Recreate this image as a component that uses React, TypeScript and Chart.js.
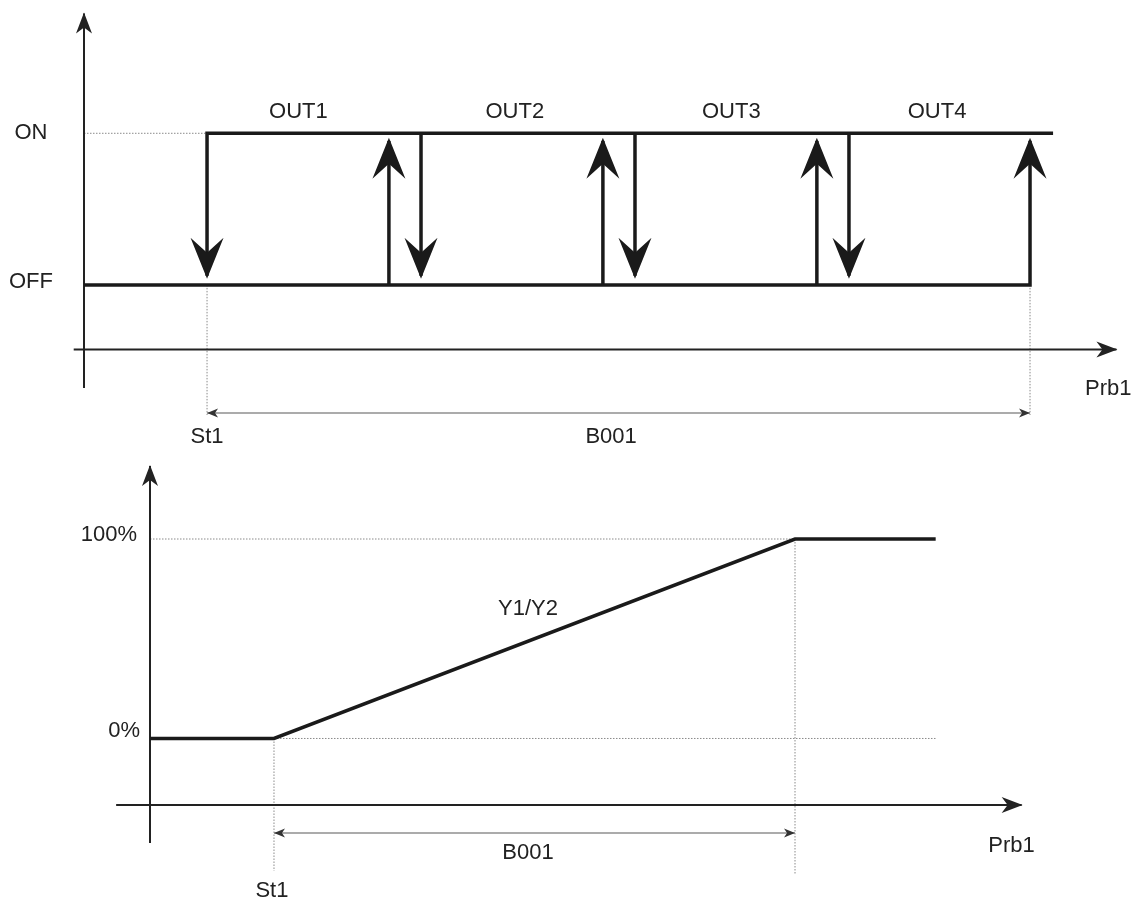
import React, { useEffect, useRef } from 'react';
import { Chart, registerables } from 'chart.js';

Chart.register(...registerables);

// ---------- Top diagram: x = Prb1 (St1 = 0, St1 + B001 = 100), y = output state ----------
const outLabels = ['OUT1', 'OUT2', 'OUT3', 'OUT4'];
const outLabelX = [11.1, 37.4, 63.7, 88.7];
const stepDownX = [0, 26.0, 52.0, 78.0];
const stepUpX = [22.1, 48.1, 74.1, 100];
const stateTickLabels = ['OFF', 'ON'];
const stateTickValues = [0, 1];
const onLineEndX = 102.8;
const topXRange = [-14.95, 110.69];
const topYRange = [-0.68, 1.8];

// ---------- Bottom diagram: x = Prb1 (St1 = 0, St1 + B001 = 100), y = Y1/Y2 (%) ----------
const rampX = [-23.8, 0, 100, 127];
const rampY = [0, 0, 100, 100];
const percentTickLabels = ['0%', '100%'];
const percentTickValues = [0, 100];
const bottomXRange = [-23.8, 143.76];
const bottomYRange = [-52.4, 137.1];

// ---------- styles ----------
const FONT = '22px "Liberation Sans", Arial, Helvetica, sans-serif';
const TEXT_COLOR = '#222';
const BIG = { len: 41, halfW: 16.5, notch: 15, extra: 3 };
const AXIS_HEAD = { len: 21, halfW: 8, notch: 6, extra: 1 };
const DIM_HEAD = { len: 11, halfW: 4.5, notch: 3, extra: 0 };

const THICK = {
  borderColor: '#1a1a1a',
  borderWidth: 3.5,
  borderCapStyle: 'butt',
  borderJoinStyle: 'miter',
  arrowColor: '#1a1a1a',
};
const AXIS = {
  borderColor: '#222',
  borderWidth: 2,
  borderCapStyle: 'butt',
  arrowColor: '#222',
};
const DOTTED = {
  borderColor: '#8a8a8a',
  borderWidth: 1,
  borderDash: [1.5, 1.5],
  borderCapStyle: 'butt',
};
const DIM = {
  borderColor: '#8f8f8f',
  borderWidth: 1.5,
  borderCapStyle: 'butt',
  arrowColor: '#333',
};

type Label = { text: string; x: number; y: number; align?: CanvasTextAlign; dy?: number };

function drawHead(ctx: CanvasRenderingContext2D, from: any, to: any, spec: any, color: string) {
  const ang = Math.atan2(to.y - from.y, to.x - from.x);
  const tx = to.x + Math.cos(ang) * spec.extra;
  const ty = to.y + Math.sin(ang) * spec.extra;
  ctx.save();
  ctx.translate(tx, ty);
  ctx.rotate(ang);
  ctx.beginPath();
  ctx.moveTo(0, 0);
  ctx.lineTo(-spec.len, -spec.halfW);
  ctx.lineTo(-(spec.len - spec.notch), 0);
  ctx.lineTo(-spec.len, spec.halfW);
  ctx.closePath();
  ctx.fillStyle = color;
  ctx.fill();
  ctx.restore();
}

function makePlugin(labels: Label[]) {
  return {
    id: 'diagramExtras',
    afterDatasetsDraw(chart: any) {
      const ctx: CanvasRenderingContext2D = chart.ctx;
      chart.data.datasets.forEach((ds: any, i: number) => {
        const pts = chart.getDatasetMeta(i).data;
        if (!pts || pts.length < 2) return;
        const color = ds.arrowColor || ds.borderColor;
        if (ds.arrowEnd) drawHead(ctx, pts[pts.length - 2], pts[pts.length - 1], ds.arrowEnd, color);
        if (ds.arrowStart) drawHead(ctx, pts[1], pts[0], ds.arrowStart, color);
      });
      const xs = chart.scales.x;
      const ys = chart.scales.y;
      ctx.save();
      ctx.font = FONT;
      ctx.fillStyle = TEXT_COLOR;
      ctx.textBaseline = 'alphabetic';
      labels.forEach((l) => {
        ctx.textAlign = l.align || 'center';
        ctx.fillText(l.text, xs.getPixelForValue(l.x), ys.getPixelForValue(l.y) + (l.dy || 0));
      });
      ctx.restore();
    },
  };
}

function baseOptions(xr: number[], yr: number[], padding: any) {
  return {
    responsive: false,
    maintainAspectRatio: false,
    animation: false,
    devicePixelRatio: 1,
    events: [],
    layout: { padding },
    plugins: {
      legend: { display: false },
      tooltip: { enabled: false },
      title: { display: false },
    },
    scales: {
      x: { type: 'linear', min: xr[0], max: xr[1], display: false },
      y: { type: 'linear', min: yr[0], max: yr[1], display: false },
    },
    elements: {
      point: { radius: 0, hoverRadius: 0 },
      line: { tension: 0, fill: false },
    },
    datasets: { line: { clip: false } },
  };
}

function topConfig(): any {
  const OFF = stateTickValues[0];
  const ON = stateTickValues[1];
  const downTip = 0.06;
  const upTip = 0.95;
  const dimY = -0.845;
  const guideEnd = -0.858;
  const xAxisY = -0.426;
  const datasets: any[] = [
    { ...THICK, data: [{ x: topXRange[0], y: OFF }, { x: stepUpX[3], y: OFF }, { x: stepUpX[3], y: upTip }], arrowEnd: BIG },
    { ...THICK, data: [{ x: onLineEndX, y: ON }, { x: stepDownX[0], y: ON }, { x: stepDownX[0], y: downTip }], arrowEnd: BIG },
    ...stepDownX.slice(1).map((x) => ({ ...THICK, data: [{ x, y: ON }, { x, y: downTip }], arrowEnd: BIG })),
    ...stepUpX.slice(0, 3).map((x) => ({ ...THICK, data: [{ x, y: OFF }, { x, y: upTip }], arrowEnd: BIG })),
    { ...AXIS, data: [{ x: topXRange[0], y: topYRange[0] }, { x: topXRange[0], y: 1.79 }], arrowEnd: AXIS_HEAD },
    { ...AXIS, data: [{ x: -16.2, y: xAxisY }, { x: 110.5, y: xAxisY }], arrowEnd: AXIS_HEAD },
    { ...DIM, data: [{ x: stepDownX[0], y: dimY }, { x: stepUpX[3], y: dimY }], arrowStart: DIM_HEAD, arrowEnd: DIM_HEAD },
    { ...DOTTED, data: [{ x: topXRange[0], y: ON }, { x: stepDownX[0], y: ON }] },
    { ...DOTTED, data: [{ x: stepDownX[0], y: OFF }, { x: stepDownX[0], y: guideEnd }] },
    { ...DOTTED, data: [{ x: stepUpX[3], y: OFF }, { x: stepUpX[3], y: guideEnd }] },
  ];
  const labels: Label[] = [
    { text: stateTickLabels[1], x: -21.4, y: ON, dy: 5.7 },
    { text: stateTickLabels[0], x: -21.4, y: OFF, dy: 3 },
    ...outLabels.map((t, i) => ({ text: t, x: outLabelX[i], y: 1.1 })),
    { text: 'Prb1', x: 109.5, y: -0.726 },
    { text: 'St1', x: 0, y: -1.043 },
    { text: 'B001', x: 49.1, y: -1.043 },
  ];
  return {
    type: 'line',
    data: { datasets },
    options: baseOptions(topXRange, topYRange, { left: 84, right: 14, top: 12, bottom: 62 }),
    plugins: [makePlugin(labels)],
  };
}

function bottomConfig(): any {
  const P0 = percentTickValues[0];
  const P100 = percentTickValues[1];
  const dimY = -47.4;
  const xAxisY = -33.3;
  const datasets: any[] = [
    { ...THICK, borderWidth: 3.5, data: rampX.map((x, i) => ({ x, y: rampY[i] })) },
    { ...AXIS, data: [{ x: bottomXRange[0], y: bottomYRange[0] }, { x: bottomXRange[0], y: 136.6 }], arrowEnd: AXIS_HEAD },
    { ...AXIS, data: [{ x: -30.3, y: xAxisY }, { x: 143.5, y: xAxisY }], arrowEnd: AXIS_HEAD },
    { ...DIM, data: [{ x: rampX[1], y: dimY }, { x: rampX[2], y: dimY }], arrowStart: DIM_HEAD, arrowEnd: DIM_HEAD },
    { ...DOTTED, data: [{ x: bottomXRange[0], y: P100 }, { x: rampX[3], y: P100 }] },
    { ...DOTTED, data: [{ x: rampX[1], y: P0 }, { x: rampX[3], y: P0 }] },
    { ...DOTTED, data: [{ x: rampX[1], y: P0 }, { x: rampX[1], y: -66.4 }] },
    { ...DOTTED, data: [{ x: rampX[2], y: P100 }, { x: rampX[2], y: -68.4 }] },
  ];
  const labels: Label[] = [
    { text: percentTickLabels[1], x: -26.3, y: P100, dy: 2, align: 'right' },
    { text: percentTickLabels[0], x: -25.7, y: P0, dy: -1.5, align: 'right' },
    { text: 'Y1/Y2', x: 48.75, y: 61.9 },
    { text: 'B001', x: 48.75, y: -60.4 },
    { text: 'St1', x: -0.4, y: -79.5 },
    { text: 'Prb1', x: 141.55, y: -56.9 },
  ];
  return {
    type: 'line',
    data: { datasets },
    options: baseOptions(bottomXRange, bottomYRange, { left: 150, right: 109, top: 15, bottom: 56 }),
    plugins: [makePlugin(labels)],
  };
}

export default function App() {
  const topRef = useRef<HTMLCanvasElement>(null);
  const bottomRef = useRef<HTMLCanvasElement>(null);

  useEffect(() => {
    const c1 = new Chart(topRef.current as HTMLCanvasElement, topConfig());
    const c2 = new Chart(bottomRef.current as HTMLCanvasElement, bottomConfig());
    return () => {
      c1.destroy();
      c2.destroy();
    };
  }, []);

  return (
    <div style={{ position: 'fixed', left: 0, top: 0, width: 1132, height: 899, background: '#fff', overflow: 'hidden' }}>
      <canvas
        ref={topRef}
        width={1132}
        height={450}
        style={{ position: 'absolute', left: 0, top: 0, width: 1132, height: 450, display: 'block' }}
      />
      <canvas
        ref={bottomRef}
        width={1132}
        height={449}
        style={{ position: 'absolute', left: 0, top: 450, width: 1132, height: 449, display: 'block' }}
      />
    </div>
  );
}
